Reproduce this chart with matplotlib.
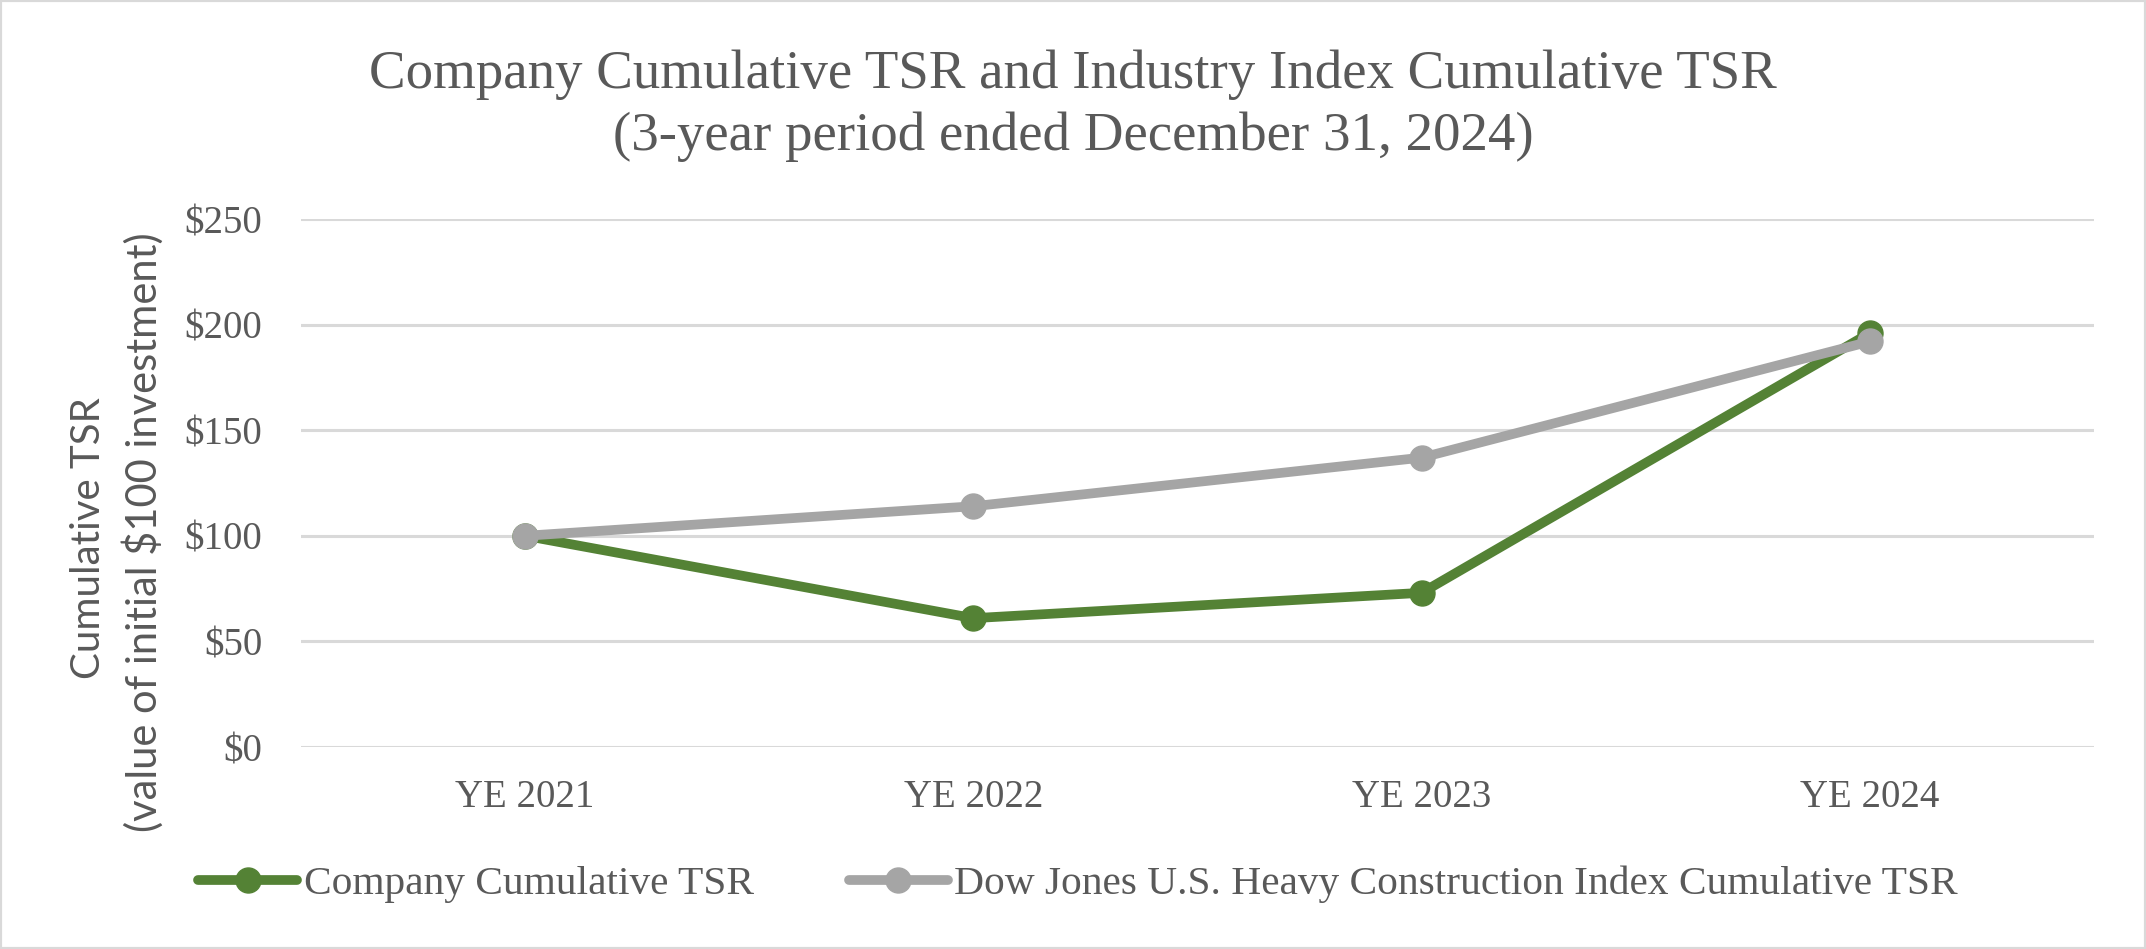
import matplotlib
matplotlib.use("Agg")
import matplotlib.pyplot as plt
from matplotlib.patches import Rectangle

categories = ["YE 2021", "YE 2022", "YE 2023", "YE 2024"]
company = [100, 61, 73, 196]
index_tsr = [100, 114, 137, 192]
yticks = [0, 50, 100, 150, 200, 250]
ytick_labels = ["$0", "$50", "$100", "$150", "$200", "$250"]
series_names = ["Company Cumulative TSR",
                "Dow Jones U.S. Heavy Construction Index Cumulative TSR"]

W, H = 2146, 949
DPI = 100
TEXT = "#595959"
GREEN = "#548235"
GRAY = "#A5A5A5"
GRID = "#D9D9D9"
SERIF = ["Liberation Serif", "DejaVu Serif"]

fig = plt.figure(figsize=(W / DPI, H / DPI), dpi=DPI)
fig.patch.set_facecolor("white")

ax = fig.add_axes([301 / W, 1 - 747 / H, (2094 - 301) / W, (747 - 219) / H])
x = list(range(len(categories)))
ax.plot(x, company, color=GREEN, lw=7, marker="o", ms=18, solid_capstyle="round",
        label=series_names[0], zorder=3)
ax.plot(x, index_tsr, color=GRAY, lw=7, marker="o", ms=18, solid_capstyle="round",
        label=series_names[1], zorder=4)

ax.set_xlim(-0.5, len(categories) - 0.5)
ax.set_ylim(0, 250)
ax.set_yticks(yticks)
ax.set_yticklabels(ytick_labels, family=SERIF, fontsize=28, color=TEXT)
ax.set_xticks(x)
ax.set_xticklabels(categories, family=SERIF, fontsize=28, color=TEXT)
ax.tick_params(axis="both", length=0)
ax.tick_params(axis="y", pad=28)
ax.tick_params(axis="x", pad=23)
for s in ax.spines.values():
    s.set_visible(False)
ax.grid(axis="y", color=GRID, lw=2.2)
ax.set_axisbelow(True)

fig.text(89 / W, 1 - 538 / H, "Cumulative TSR", rotation=90, ha="center", va="center",
         family=["Lato", "DejaVu Sans"], fontsize=29, color=TEXT)
fig.text(143 / W, 1 - 532 / H, "(value of initial $100 investment)", rotation=90,
         ha="center", va="center", family=["Lato", "DejaVu Sans"], fontsize=30, color=TEXT)

fig.text(0.5, 1 - 75 / H, "Company Cumulative TSR and Industry Index Cumulative TSR",
         ha="center", va="center", family=SERIF, fontsize=39.5, color=TEXT)
fig.text(0.5, 1 - 137 / H, "(3-year period ended December 31, 2024)",
         ha="center", va="center", family=SERIF, fontsize=39.5, color=TEXT)

leg = fig.legend(loc="center", bbox_to_anchor=(1078 / W, 1 - 884 / H), ncol=2,
                 frameon=False, prop={"family": SERIF, "size": 29.8},
                 handlelength=2.4, handletextpad=0.15, columnspacing=2.3)
for t in leg.get_texts():
    t.set_color(TEXT)

fig.patches.append(Rectangle((0, 0), 1, 1, transform=fig.transFigure, fill=False,
                             edgecolor=GRID, lw=3, zorder=10))

fig.savefig("out.png", dpi=DPI, facecolor="white")
